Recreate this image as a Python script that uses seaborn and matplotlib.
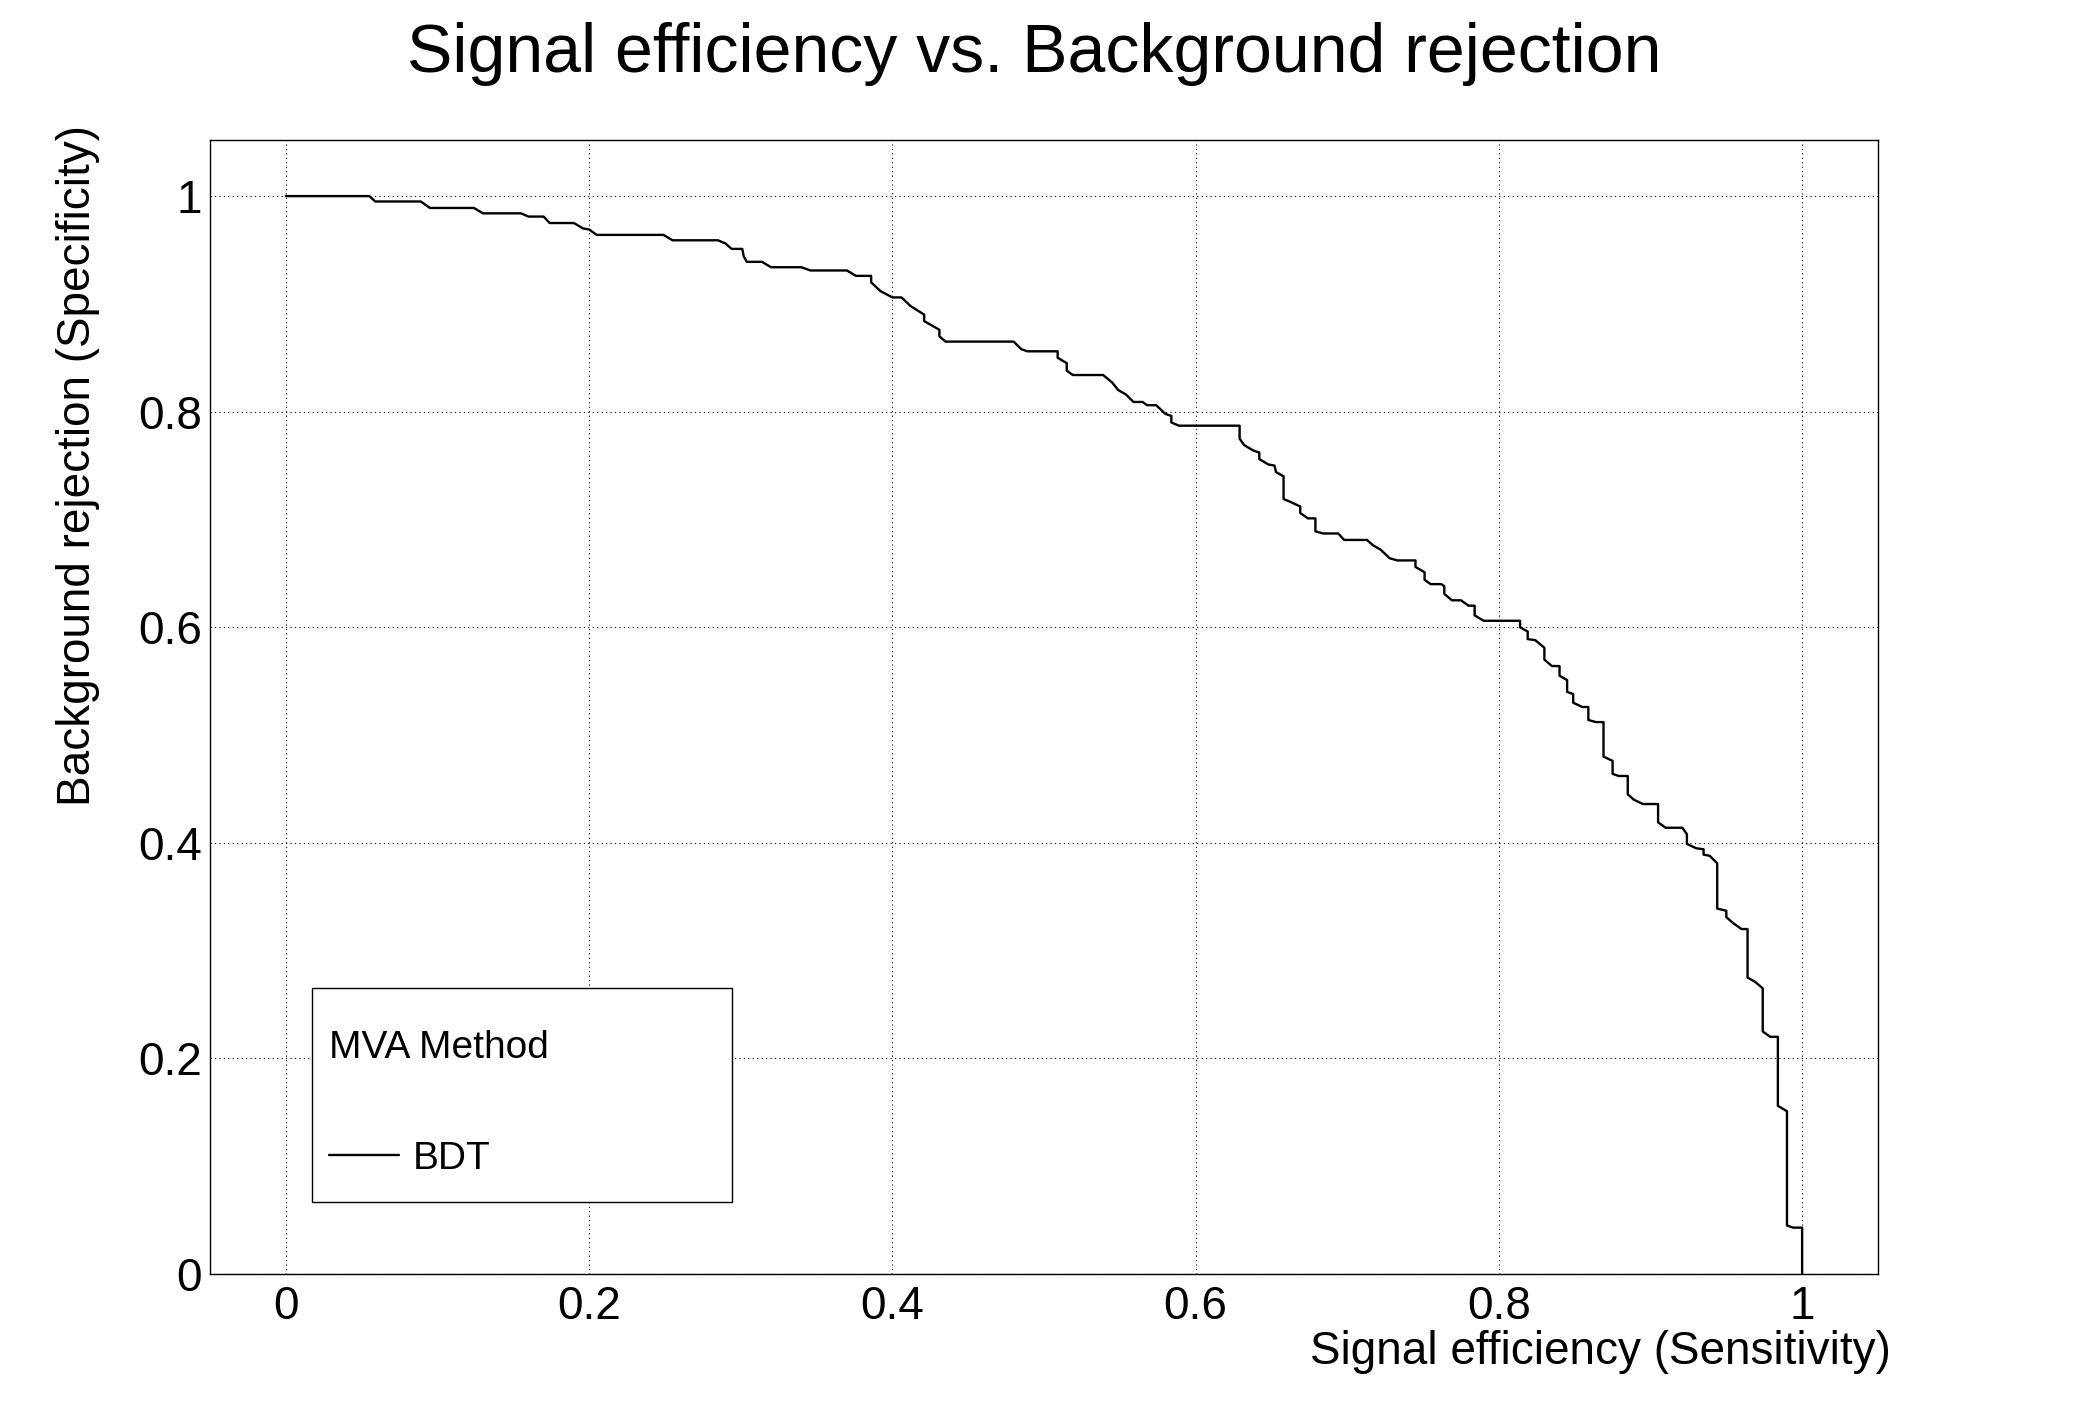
import numpy as np
import pandas as pd
import matplotlib
matplotlib.use("Agg")
import matplotlib.pyplot as plt
from matplotlib.offsetbox import DrawingArea
import seaborn as sns

# ROC curve of the BDT
sig_eff = [0.0, 0.055, 0.059, 0.089, 0.095, 0.124, 0.130, 0.155, 0.160, 0.170,
           0.174, 0.190, 0.196, 0.200, 0.205, 0.249, 0.255, 0.285, 0.290, 0.294,
           0.301, 0.302, 0.304, 0.314, 0.320, 0.340, 0.346, 0.370, 0.376, 0.386,
           0.386, 0.392, 0.400, 0.406, 0.412, 0.421, 0.421, 0.431, 0.431, 0.435,
           0.480, 0.485, 0.489, 0.509, 0.509, 0.515, 0.515, 0.519, 0.539, 0.545,
           0.549, 0.554, 0.559, 0.565, 0.568, 0.574, 0.580, 0.584, 0.584, 0.589,
           0.629, 0.629, 0.632, 0.638, 0.642, 0.642, 0.648, 0.652, 0.653, 0.658,
           0.658, 0.663, 0.669, 0.669, 0.674, 0.679, 0.679, 0.684, 0.694, 0.698,
           0.713, 0.717, 0.722, 0.728, 0.733, 0.745, 0.745, 0.751, 0.751, 0.755,
           0.762, 0.764, 0.764, 0.769, 0.775, 0.780, 0.784, 0.784, 0.790, 0.814,
           0.814, 0.819, 0.819, 0.824, 0.830, 0.830, 0.835, 0.840, 0.840, 0.845,
           0.845, 0.849, 0.849, 0.855, 0.859, 0.859, 0.864, 0.869, 0.869, 0.875,
           0.875, 0.879, 0.885, 0.885, 0.889, 0.895, 0.905, 0.905, 0.910, 0.921,
           0.924, 0.924, 0.930, 0.935, 0.935, 0.939, 0.944, 0.944, 0.950, 0.950,
           0.955, 0.960, 0.964, 0.964, 0.969, 0.974, 0.974, 0.979, 0.984, 0.984,
           0.990, 0.990, 0.994, 1.0, 1.0]
bkg_rej = [1.0, 1.0, 0.995, 0.995, 0.989, 0.989, 0.984, 0.984, 0.981, 0.981,
           0.975, 0.975, 0.970, 0.969, 0.964, 0.964, 0.959, 0.959, 0.956, 0.951,
           0.951, 0.944, 0.939, 0.939, 0.934, 0.934, 0.931, 0.931, 0.926, 0.926,
           0.920, 0.912, 0.906, 0.906, 0.898, 0.890, 0.884, 0.876, 0.870, 0.865,
           0.865, 0.858, 0.856, 0.856, 0.850, 0.845, 0.838, 0.834, 0.834, 0.827,
           0.820, 0.816, 0.809, 0.809, 0.806, 0.806, 0.798, 0.796, 0.790, 0.787,
           0.787, 0.775, 0.769, 0.764, 0.762, 0.756, 0.751, 0.750, 0.744, 0.740,
           0.719, 0.716, 0.712, 0.706, 0.701, 0.701, 0.689, 0.687, 0.687, 0.681,
           0.681, 0.676, 0.672, 0.664, 0.662, 0.662, 0.656, 0.651, 0.644, 0.640,
           0.640, 0.638, 0.631, 0.625, 0.625, 0.620, 0.620, 0.611, 0.606, 0.606,
           0.600, 0.596, 0.589, 0.588, 0.581, 0.570, 0.564, 0.564, 0.555, 0.551,
           0.540, 0.538, 0.530, 0.526, 0.526, 0.514, 0.512, 0.512, 0.480, 0.476,
           0.464, 0.462, 0.462, 0.445, 0.440, 0.436, 0.436, 0.419, 0.414, 0.414,
           0.408, 0.399, 0.395, 0.394, 0.389, 0.388, 0.381, 0.339, 0.337, 0.331,
           0.325, 0.320, 0.320, 0.275, 0.271, 0.265, 0.225, 0.220, 0.220, 0.156,
           0.151, 0.045, 0.043, 0.043, 0.0]

major_ticks = [0, 0.2, 0.4, 0.6, 0.8, 1]
major_labels = ["0", "0.2", "0.4", "0.6", "0.8", "1"]

df = pd.DataFrame({"eff": sig_eff, "rej": bkg_rej, "method": "BDT"})

sns.set_theme(style="white", rc={"text.color": "black", "axes.labelcolor": "black",
                                 "xtick.color": "black", "ytick.color": "black"})
plt.rcParams['font.family'] = ['Liberation Sans', 'DejaVu Sans']

fig = plt.figure(figsize=(20.88, 14.16), dpi=100)
ax = fig.add_axes([0.1006, 0.1003, 0.7988, 0.8008])

sns.lineplot(data=df, x="eff", y="rej", hue="method", palette=["black"],
             sort=False, estimator=None, linewidth=1.7, ax=ax)

ax.set_xlim(-0.05, 1.05)
ax.set_ylim(0, 1.052)

ax.set_xticks(major_ticks)
ax.set_xticklabels(major_labels)
ax.set_yticks(major_ticks)
ax.set_yticklabels(major_labels)
ax.set_xticks(np.arange(0, 1.0001, 0.05), minor=True)
ax.set_yticks(np.arange(0, 1.0001, 0.05), minor=True)

ax.tick_params(axis="both", which="both", direction="in", color="black",
               labelsize=33, width=1.0, top=False, right=False)
ax.tick_params(axis="x", which="major", length=29, pad=8)
ax.tick_params(axis="x", which="minor", length=15)
ax.tick_params(axis="y", which="major", length=35, pad=6)
ax.tick_params(axis="y", which="minor", length=17)

ax.grid(True, which="major", color="black", linestyle=(0, (1, 3)), linewidth=0.8)
for s in ax.spines.values():
    s.set_color("black")
    s.set_linewidth(1.0)

ax.set_xlabel("Signal efficiency (Sensitivity)", fontsize=33, loc="right")
ax.set_ylabel("Background rejection (Specificity)", fontsize=33, loc="top")
ax.xaxis.set_label_coords(1.008, -0.049)
ax.yaxis.set_label_coords(-0.066, 1.013)

fig.text(0.4955, 0.962, "Signal efficiency vs. Background rejection",
         fontsize=49, ha="center", va="center")

leg = ax.legend(title="MVA Method", loc="lower left",
                bbox_to_anchor=(0.0612, 0.0635, 0.2518, 0.19), mode="expand",
                fontsize=28, title_fontsize=28, frameon=True, fancybox=False,
                borderpad=12 / 28, handlelength=1.8,
                handletextpad=0.35, borderaxespad=0)
# ROOT-like spacing: more room above the title than below the entry
box = leg._legend_box
title_box, handle_box = box.get_children()
box._children = [DrawingArea(0, 18), title_box, DrawingArea(0, 54),
                 handle_box, DrawingArea(0, 6)]
box.sep = 0
box.align = "left"
leg.get_frame().set_edgecolor("black")
leg.get_frame().set_linewidth(1.0)
leg.get_frame().set_alpha(1)

fig.savefig("out.png", dpi=100)
